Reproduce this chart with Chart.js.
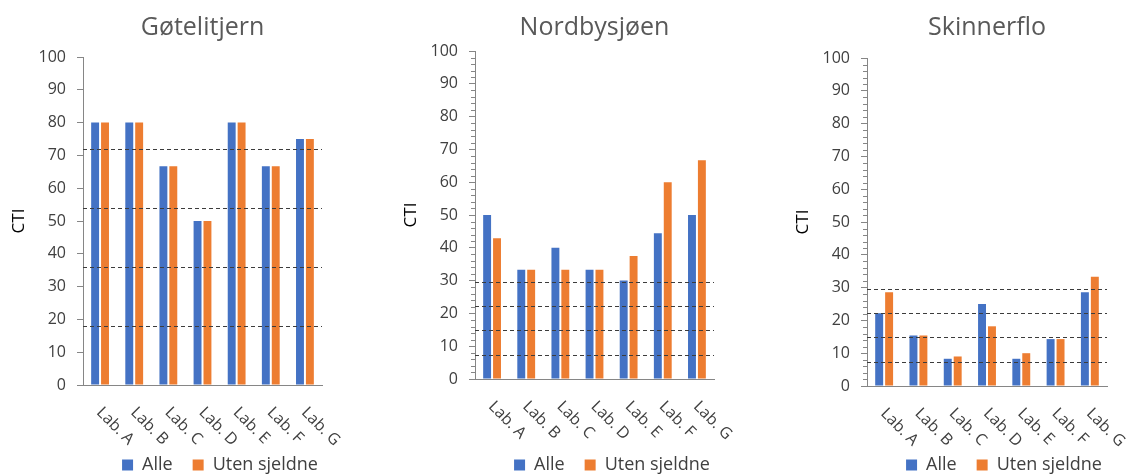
<!DOCTYPE html>
<html>
<head>
<meta charset="utf-8">
<title>CTI per lab</title>
<script src="https://cdn.jsdelivr.net/npm/chart.js"></script>
<style>
  html, body { margin: 0; padding: 0; background: #fff; overflow: hidden; }
  body { width: 1126px; height: 474px; position: relative; }
  .panel { position: absolute; top: 0; height: 482px; }
</style>
</head>
<body>
<div class="panel" id="p0"><canvas id="c0"></canvas></div>
<div class="panel" id="p1"><canvas id="c1"></canvas></div>
<div class="panel" id="p2"><canvas id="c2"></canvas></div>

<script>
// data
const labs = ['Lab. A', 'Lab. B', 'Lab. C', 'Lab. D', 'Lab. E', 'Lab. F', 'Lab. G'];
const seriesNames = ['Alle', 'Uten sjeldne'];
const titles = ['Gøtelitjern', 'Nordbysjøen', 'Skinnerflo'];

const goteAlle = [80, 80, 66.7, 50, 80, 66.7, 75];
const goteUten = [80, 80, 66.7, 50, 80, 66.7, 75];
const goteLines = [18, 36, 54, 72];

const nordAlle = [50, 33.3, 40, 33.3, 30, 44.4, 50];
const nordUten = [42.9, 33.3, 33.3, 33.3, 37.5, 60, 66.7];
const nordLines = [7.4, 14.8, 22.2, 29.6];

const skinAlle = [22.2, 15.4, 8.3, 25, 8.3, 14.3, 28.6];
const skinUten = [28.6, 15.4, 9, 18.2, 10, 14.3, 33.3];
const skinLines = [7.4, 14.8, 22.2, 29.6];

const blue = '#4472C4';
const orange = '#ED7D31';
const axisGray = '#868686';
const textCol = '#404040';
const font = '"Open Sans", sans-serif';

// where each panel sits in the window
const layouts = [
  { left: 0,   plotLeft: 83,  plotRight: 322,  plotTop: 57, plotBottom: 385, legendMid: 220, minor: false },
  { left: 375, plotLeft: 475, plotRight: 714,  plotTop: 51, plotBottom: 379, legendMid: 612, minor: true },
  { left: 770, plotLeft: 867, plotRight: 1107, plotTop: 58, plotBottom: 386, legendMid: 1004, minor: true }
];
const panelData = [
  [goteAlle, goteUten, goteLines],
  [nordAlle, nordUten, nordLines],
  [skinAlle, skinUten, skinLines]
];

const canvasH = 484;
const legendH = 48;

const overlay = {
  id: 'overlay',
  afterDatasetsDraw(chart, args, opts) {
    const { ctx, chartArea: a, scales: { x, y } } = chart;
    ctx.save();
    // dashed reference lines
    ctx.strokeStyle = '#3c3c3c';
    ctx.lineWidth = 1;
    ctx.setLineDash([4, 3]);
    opts.lines.forEach(v => {
      const py = Math.round(y.getPixelForValue(v)) + 0.5;
      ctx.beginPath();
      ctx.moveTo(a.left, py);
      ctx.lineTo(a.right, py);
      ctx.stroke();
    });
    ctx.setLineDash([]);
    // minor ticks every 2
    if (opts.minor) {
      ctx.strokeStyle = axisGray;
      for (let v = 2; v < 100; v += 2) {
        if (v % 10 === 0) continue;
        const py = Math.round(y.getPixelForValue(v)) + 0.5;
        ctx.beginPath();
        ctx.moveTo(a.left - 4, py);
        ctx.lineTo(a.left, py);
        ctx.stroke();
      }
    }
    // category labels, turned 45 degrees clockwise
    ctx.fillStyle = textCol;
    ctx.font = '16px ' + font;
    ctx.textAlign = 'left';
    ctx.textBaseline = 'middle';
    labs.forEach((lab, i) => {
      const px = x.getPixelForTick(i);
      ctx.save();
      ctx.translate(px - 1, a.bottom + 25);
      ctx.rotate(Math.PI / 4);
      ctx.fillText(lab, 0, 0);
      ctx.restore();
    });
    ctx.restore();
  }
};

layouts.forEach((L, i) => {
  const width = 2 * (L.legendMid - L.left);
  const wrap = document.getElementById('p' + i);
  wrap.style.left = L.left + 'px';
  wrap.style.width = width + 'px';
  wrap.style.height = canvasH + 'px';
  const [alle, uten, lines] = panelData[i];
  const ctiOffset = L.plotLeft - 64 - L.left;

  new Chart(document.getElementById('c' + i), {
    type: 'bar',
    data: {
      labels: labs,
      datasets: [
        { label: seriesNames[0], data: alle, backgroundColor: blue },
        { label: seriesNames[1], data: uten, backgroundColor: orange }
      ]
    },
    options: {
      responsive: true,
      maintainAspectRatio: false,
      animation: false,
      categoryPercentage: 0.58,
      barPercentage: 0.8,
      layout: { padding: 0 },
      plugins: {
        title: {
          display: true,
          text: titles[i],
          fullSize: false,
          color: '#595959',
          font: { family: font, size: 25, weight: 'normal' },
          padding: { top: 13, bottom: L.plotTop - 43 }
        },
        legend: {
          position: 'bottom',
          labels: {
            boxWidth: 11,
            boxHeight: 11,
            padding: 20,
            color: textCol,
            font: { family: font, size: 18 }
          }
        },
        tooltip: { enabled: false },
        overlay: { lines: lines, minor: L.minor }
      },
      scales: {
        x: {
          grid: { display: false },
          border: { display: true, color: axisGray, width: 1 },
          ticks: { display: false },
          afterFit: s => { s.height = canvasH - legendH - L.plotBottom; }
        },
        y: {
          min: 0,
          max: 100,
          ticks: { stepSize: 10, padding: 11, color: textCol, font: { family: font, size: 16 } },
          grid: { display: true, drawOnChartArea: false, drawTicks: true, tickLength: 6, color: axisGray },
          border: { display: true, color: axisGray, width: 1 },
          title: {
            display: true,
            text: 'CTI',
            color: '#000',
            font: { family: font, size: 17 },
            padding: { top: ctiOffset - 10.2, bottom: 0 }
          },
          afterFit: s => { s.width = L.plotLeft - L.left; }
        },
        spacer: {
          type: 'linear',
          position: 'right',
          display: true,
          grid: { display: false },
          border: { display: false },
          ticks: { display: false },
          afterFit: s => { s.width = L.left + width - L.plotRight; }
        }
      }
    },
    plugins: [overlay]
  });
});
</script>
</body>
</html>
